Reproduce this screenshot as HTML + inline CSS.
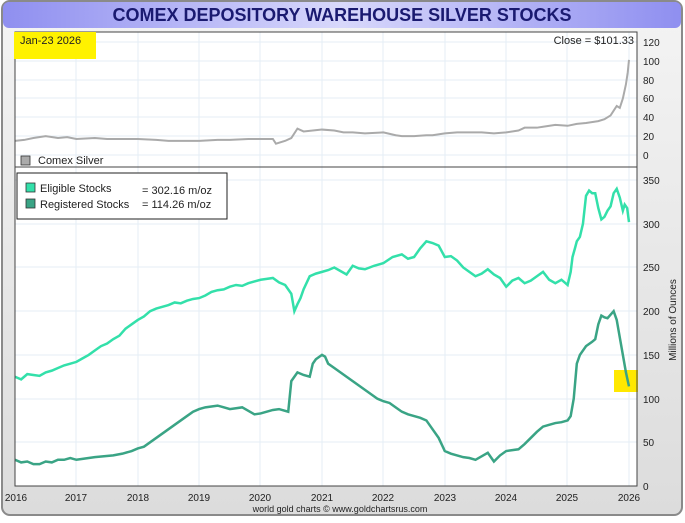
<!DOCTYPE html>
<html><head><style>
body{margin:0;width:685px;height:518px;background:#fff;font-family:"Liberation Sans",sans-serif;overflow:hidden}
</style></head><body>
<svg width="685" height="518" xmlns="http://www.w3.org/2000/svg" font-family="Liberation Sans, sans-serif">
<defs>
<linearGradient id="tg" x1="0" y1="0" x2="1" y2="0">
<stop offset="0" stop-color="#8f8ff0"/><stop offset="0.5" stop-color="#d8d8fb"/><stop offset="1" stop-color="#8f8ff0"/>
</linearGradient>
<linearGradient id="bg" x1="0" y1="0" x2="0" y2="1">
<stop offset="0" stop-color="#f4f4f4"/><stop offset="1" stop-color="#dcdcdc"/>
</linearGradient>
</defs>
<rect x="2" y="1" width="680" height="514" rx="8" fill="url(#bg)" stroke="#8a8a8a" stroke-width="2"/>
<rect x="3" y="2" width="678" height="26" rx="6" fill="url(#tg)"/>
<text x="342" y="21" text-anchor="middle" font-size="18" font-weight="bold" fill="#1a1a70">COMEX DEPOSITORY WAREHOUSE SILVER STOCKS</text>
<rect x="15" y="32" width="622" height="135" fill="#fff"/>
<rect x="15" y="167" width="622" height="319" fill="#fff"/>
<g stroke="#e4eef6" stroke-width="1">
<line x1="76" y1="32" x2="76" y2="486"/><line x1="138" y1="32" x2="138" y2="486"/><line x1="199" y1="32" x2="199" y2="486"/>
<line x1="260" y1="32" x2="260" y2="486"/><line x1="322" y1="32" x2="322" y2="486"/><line x1="383" y1="32" x2="383" y2="486"/>
<line x1="445" y1="32" x2="445" y2="486"/><line x1="506" y1="32" x2="506" y2="486"/><line x1="567" y1="32" x2="567" y2="486"/><line x1="629" y1="32" x2="629" y2="486"/>
<line x1="15" y1="42" x2="637" y2="42"/><line x1="15" y1="61" x2="637" y2="61"/><line x1="15" y1="80" x2="637" y2="80"/>
<line x1="15" y1="98" x2="637" y2="98"/><line x1="15" y1="117" x2="637" y2="117"/><line x1="15" y1="136" x2="637" y2="136"/><line x1="15" y1="155" x2="637" y2="155"/>
<line x1="15" y1="180" x2="637" y2="180"/><line x1="15" y1="224" x2="637" y2="224"/><line x1="15" y1="267" x2="637" y2="267"/>
<line x1="15" y1="311" x2="637" y2="311"/><line x1="15" y1="355" x2="637" y2="355"/><line x1="15" y1="399" x2="637" y2="399"/><line x1="15" y1="442" x2="637" y2="442"/>
</g>
<g font-size="10" fill="#222">
<text x="643" y="46">120</text><text x="643" y="65">100</text><text x="643" y="84">80</text><text x="643" y="102">60</text>
<text x="643" y="121">40</text><text x="643" y="140">20</text><text x="643" y="159">0</text>
<text x="643" y="184">350</text><text x="643" y="228">300</text><text x="643" y="271">250</text><text x="643" y="315">200</text>
<text x="643" y="359">150</text><text x="643" y="403">100</text><text x="643" y="446">50</text><text x="643" y="490">0</text>
</g>
<text transform="translate(676,320) rotate(-90)" text-anchor="middle" font-size="10" fill="#222">Millions of Ounces</text>
<g font-size="10" fill="#222" text-anchor="middle">
<text x="16" y="501">2016</text><text x="76" y="501">2017</text><text x="138" y="501">2018</text><text x="199" y="501">2019</text>
<text x="260" y="501">2020</text><text x="322" y="501">2021</text><text x="383" y="501">2022</text><text x="445" y="501">2023</text>
<text x="506" y="501">2024</text><text x="567" y="501">2025</text><text x="629" y="501">2026</text>
</g>
<text x="340" y="512" text-anchor="middle" font-size="9" fill="#222">world gold charts © www.goldchartsrus.com</text>
<rect x="614" y="370" width="24" height="22" fill="#ffe800"/>
<g transform="translate(15,155) scale(61.4,-0.942)">
<polyline fill="none" stroke="#aaa" stroke-width="2" vector-effect="non-scaling-stroke" points="0,15 0.15,16 0.3,18 0.5,20 0.7,18 0.85,19 1.0,17 1.3,18 1.5,17 1.8,17 2.0,17 2.3,16 2.5,15 2.8,15 3.0,15 3.3,16 3.5,16 3.8,17 4.0,17 4.2,17 4.25,12 4.4,15 4.5,18 4.6,28 4.7,25 4.85,26 5.0,27 5.2,26 5.35,24 5.5,24 5.7,23 6.0,24 6.2,21 6.3,20 6.5,20 6.7,21 6.8,21 7.0,23 7.2,24 7.3,24 7.6,24 7.8,23 8.0,24 8.2,26 8.3,29 8.5,29 8.6,30 8.8,32 9.0,31 9.15,33 9.3,34 9.5,36 9.6,38 9.7,42 9.75,47 9.8,52 9.85,50 9.9,60 9.95,75 9.98,88 10.0,101"/>
</g>
<g transform="translate(15,486) scale(61.4,-0.874)">
<polyline fill="none" stroke="#33e0aa" stroke-width="2.5" vector-effect="non-scaling-stroke" points="0,125 0.1,122 0.2,128 0.3,127 0.4,126 0.5,130 0.6,132 0.7,135 0.8,138 0.9,140 1.0,142 1.1,146 1.2,150 1.3,155 1.4,160 1.5,163 1.6,168 1.7,172 1.8,180 1.9,185 2.0,190 2.1,194 2.2,200 2.3,203 2.4,205 2.5,207 2.6,210 2.7,209 2.8,212 2.9,214 3.0,215 3.1,218 3.2,222 3.3,224 3.4,225 3.5,228 3.6,230 3.7,229 3.8,232 3.9,234 4.0,236 4.1,237 4.2,238 4.3,233 4.4,230 4.5,220 4.55,200 4.6,208 4.65,215 4.7,225 4.8,240 4.9,243 5.0,245 5.1,247 5.2,250 5.3,246 5.4,242 5.5,252 5.6,249 5.7,248 5.85,252 6.0,255 6.15,262 6.3,265 6.4,260 6.5,262 6.6,272 6.7,280 6.8,278 6.9,275 7.0,262 7.1,263 7.2,258 7.3,250 7.4,245 7.5,240 7.6,243 7.7,248 7.8,242 7.9,238 8.0,228 8.1,235 8.2,238 8.3,232 8.4,235 8.5,240 8.6,245 8.7,236 8.8,232 8.9,236 9.0,230 9.05,245 9.08,262 9.12,272 9.15,280 9.2,285 9.25,300 9.3,332 9.35,338 9.4,335 9.45,335 9.5,318 9.55,305 9.6,308 9.65,315 9.7,320 9.75,335 9.8,340 9.85,330 9.9,315 9.93,322 9.97,318 10.0,302"/>
<polyline fill="none" stroke="#3aa485" stroke-width="2.5" vector-effect="non-scaling-stroke" points="0,30 0.1,27 0.2,28 0.3,25 0.4,25 0.5,28 0.6,27 0.7,30 0.8,30 0.9,32 1.0,30 1.1,31 1.2,32 1.3,33 1.45,34 1.6,35 1.75,37 1.9,40 2.0,43 2.1,45 2.2,50 2.3,55 2.4,60 2.5,65 2.6,70 2.7,75 2.8,80 2.9,85 3.0,88 3.1,90 3.2,91 3.3,92 3.4,90 3.5,88 3.6,89 3.7,90 3.8,86 3.9,82 4.0,83 4.1,85 4.2,87 4.3,88 4.45,85 4.5,120 4.55,125 4.6,130 4.7,127 4.8,125 4.85,140 4.9,145 5.0,150 5.05,148 5.1,140 5.2,135 5.3,130 5.4,125 5.5,120 5.6,115 5.7,110 5.8,105 5.9,100 6.0,97 6.1,95 6.2,90 6.3,85 6.4,82 6.5,80 6.6,78 6.7,75 6.8,65 6.9,55 7.0,40 7.1,37 7.2,35 7.3,33 7.4,32 7.5,30 7.6,34 7.7,38 7.8,28 7.9,35 8.0,40 8.1,41 8.2,42 8.3,48 8.4,55 8.5,62 8.6,68 8.7,70 8.8,72 8.9,73 9.0,75 9.05,80 9.1,100 9.15,140 9.2,150 9.3,160 9.4,165 9.45,168 9.5,185 9.55,195 9.6,193 9.65,192 9.7,196 9.75,200 9.8,190 9.85,170 9.9,150 9.95,130 10.0,114"/>
</g>
<rect x="15" y="32" width="622" height="135" fill="none" stroke="#444"/>
<rect x="15" y="167" width="622" height="319" fill="none" stroke="#444"/>
<rect x="14" y="32" width="82" height="27" fill="#fff200"/>
<text x="20" y="44" font-size="11" fill="#222">Jan-23  2026</text>
<text x="634" y="44" text-anchor="end" font-size="11" fill="#222">Close = $101.33</text>
<rect x="21" y="156" width="9" height="9" fill="#aaa" stroke="#333" stroke-width="0.8"/>
<text x="38" y="164" font-size="11" fill="#222">Comex Silver</text>
<rect x="17" y="173" width="210" height="46" fill="#fff" stroke="#222" stroke-width="1"/>
<rect x="26" y="183" width="9" height="9" fill="#33e0aa" stroke="#333" stroke-width="0.8"/>
<rect x="26" y="199" width="9" height="9" fill="#3aa485" stroke="#333" stroke-width="0.8"/>
<text x="40" y="192" font-size="11" fill="#222">Eligible Stocks</text>
<text x="40" y="208" font-size="11" fill="#222">Registered Stocks</text>
<text x="142" y="194" font-size="11" fill="#222">= 302.16 m/oz</text>
<text x="142" y="208" font-size="11" fill="#222">= 114.26 m/oz</text>
</svg>
</body></html>
